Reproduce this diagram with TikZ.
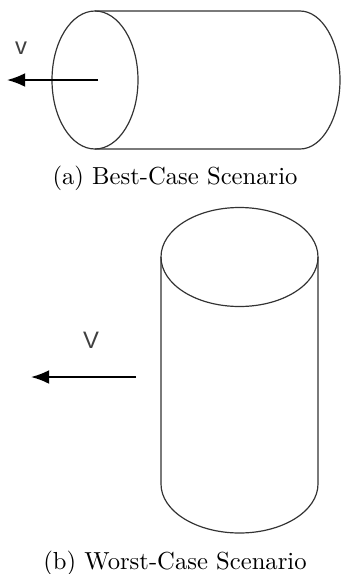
\documentclass[tikz,border=0pt]{standalone}
\usepackage{fontspec}
\newfontfamily\labelfont{Liberation Sans}
\usetikzlibrary{arrows.meta}
\tikzset{
  outline/.style={draw=black!80,line width=0.5pt},
  velocity/.style={->,line width=0.75pt},
  vlabel/.style={font=\labelfont\fontsize{10}{12}\selectfont,text=black!75,inner sep=0pt},
  caption/.style={font=\fontsize{10.35}{12}\selectfont,inner sep=0pt}
}
\begin{document}
\begin{tikzpicture}[>={Latex[length=7.6pt,width=5.8pt]},x=0.42pt,y=-0.42pt]
	\useasboundingbox (0,0) rectangle (340,574);
	% lying cylinder
	\draw[outline] (95,80) ellipse [x radius=43,y radius=69];
	\draw[outline] (95,11) -- (300,11) arc [start angle=90,end angle=-90,x radius=40,y radius=-69] -- (95,149);
	\coordinate (tailA) at (98,80);
	\coordinate (headA) at (7,80);
	\draw[velocity] (tailA) -- (headA);
	\node[vlabel] (labelA) at (21,48) {v};
	\node[caption] (captionA) at (175,178) {(a) Best-Case Scenario};
	% standing cylinder
	\draw[outline] (239.5,257) ellipse [x radius=78.5,y radius=49.5];
	\draw[outline] (161,257) -- (161,484) arc [start angle=180,end angle=360,x radius=78.5,y radius=-49] -- (318,257);
	\coordinate (tailB) at (136,377);
	\coordinate (headB) at (31,377);
	\draw[velocity] (tailB) -- (headB);
	\node[vlabel] (labelB) at (91,340) {V};
	\node[caption] (captionB) at (175,563) {(b) Worst-Case Scenario};
\end{tikzpicture}
\end{document}
